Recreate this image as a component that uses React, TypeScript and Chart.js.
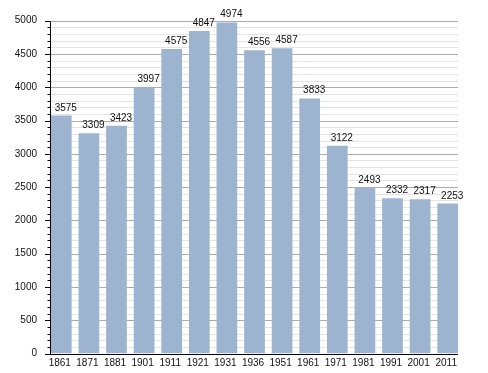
import React, { useEffect, useRef } from "react";
import { Chart, registerables } from "chart.js";

Chart.register(...registerables);

const years = ["1861", "1871", "1881", "1901", "1911", "1921", "1931", "1936", "1951", "1961", "1971", "1981", "1991", "2001", "2011"];
const population = [3575, 3309, 3423, 3997, 4575, 4847, 4974, 4556, 4587, 3833, 3122, 2493, 2332, 2317, 2253];
const yMax = 5000;
const majorStep = 500;
const minorStep = 100;

const FONT = '10px "Liberation Sans", Arial, sans-serif';

const customAxes = {
  id: "customAxes",
  beforeDatasetsDraw(chart: any) {
    const { ctx } = chart;
    const y = chart.scales.y;
    const left = 51;
    const right = 458;
    ctx.save();
    ctx.lineWidth = 1;
    for (let v = 0; v <= yMax; v += minorStep) {
      if (v % majorStep === 0) continue;
      const py = Math.round(y.getPixelForValue(v)) + 0.5;
      ctx.strokeStyle = "#e4e4e4";
      ctx.beginPath();
      ctx.moveTo(left, py);
      ctx.lineTo(right, py);
      ctx.stroke();
    }
    for (let v = majorStep; v <= yMax; v += majorStep) {
      const py = Math.round(y.getPixelForValue(v)) + 0.5;
      ctx.strokeStyle = "#ababab";
      ctx.beginPath();
      ctx.moveTo(left, py);
      ctx.lineTo(right, py);
      ctx.stroke();
    }
    ctx.restore();
  },
  afterDatasetsDraw(chart: any) {
    const { ctx } = chart;
    const y = chart.scales.y;
    const x = chart.scales.x;
    const axisX = 50.5;
    const right = 458;
    const topY = Math.round(y.getPixelForValue(yMax)) + 0.5;
    const botY = Math.round(y.getPixelForValue(0)) + 0.5;
    ctx.save();
    ctx.strokeStyle = "#000";
    ctx.lineWidth = 1;
    // axes
    ctx.beginPath();
    ctx.moveTo(axisX, topY);
    ctx.lineTo(axisX, botY);
    ctx.moveTo(axisX - 5, botY);
    ctx.lineTo(right, botY);
    ctx.stroke();
    // ticks
    for (let v = 0; v <= yMax; v += minorStep) {
      const py = Math.round(y.getPixelForValue(v)) + 0.5;
      const len = v % majorStep === 0 ? 5.5 : 3;
      ctx.beginPath();
      ctx.moveTo(axisX - len, py);
      ctx.lineTo(axisX, py);
      ctx.stroke();
    }
    // y labels
    ctx.fillStyle = "#111";
    ctx.font = FONT;
    ctx.textAlign = "right";
    ctx.textBaseline = "middle";
    for (let v = 0; v <= yMax; v += majorStep) {
      ctx.fillText(String(v), 37, y.getPixelForValue(v));
    }
    // x labels
    ctx.textAlign = "center";
    ctx.textBaseline = "alphabetic";
    years.forEach((lab, i) => {
      ctx.fillText(lab, x.getPixelForValue(i) - 1.5, 366);
    });
    // value labels
    const meta = chart.getDatasetMeta(0);
    meta.data.forEach((bar: any, i: number) => {
      ctx.fillText(String(population[i]), bar.x + 4.5, bar.y - 5);
    });
    ctx.restore();
  },
};

export default function App() {
  const ref = useRef<HTMLCanvasElement | null>(null);
  useEffect(() => {
    if (!ref.current) return;
    const chart = new Chart(ref.current, {
      type: "bar",
      data: {
        labels: years,
        datasets: [
          {
            data: population,
            backgroundColor: "#9cb4d0",
            borderWidth: 0,
            barPercentage: 0.75,
            categoryPercentage: 1,
          },
        ],
      },
      options: {
        responsive: false,
        animation: false,
        layout: { padding: { left: 47.5, right: 26.5, top: 20.7, bottom: 19.5 } },
        plugins: { legend: { display: false }, tooltip: { enabled: false } },
        scales: {
          x: { display: false },
          y: { display: false, min: 0, max: yMax },
        },
      },
      plugins: [customAxes],
    });
    return () => chart.destroy();
  }, []);
  return (
    <div style={{ position: "fixed", left: 0, top: 0, width: 488, height: 373, background: "#fff" }}>
      <canvas ref={ref} width={488} height={373} style={{ width: 488, height: 373 }} />
    </div>
  );
}
